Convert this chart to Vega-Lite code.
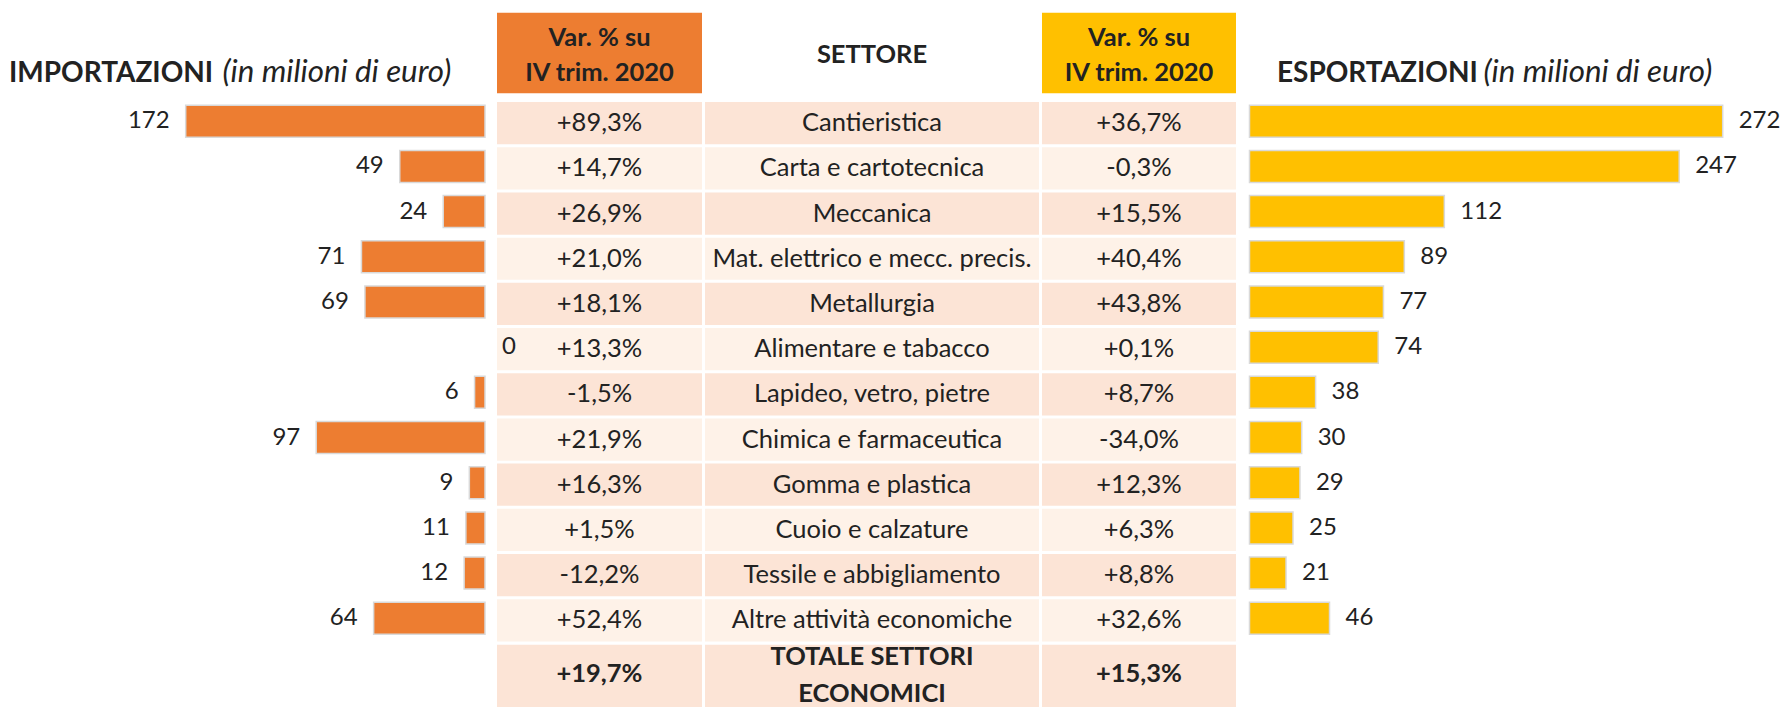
{
  "$schema": "https://vega.github.io/schema/vega-lite/v6.json",
  "padding": {"top": 12.7, "left": 0, "right": 0, "bottom": 0},
  "background": "white",
  "spacing": 0,
  "datasets": {
    "rows": [
      {"settore": "Cantieristica", "imp": 172, "var_imp": 0.893, "var_exp": 0.367, "exp": 272},
      {"settore": "Carta e cartotecnica", "imp": 49, "var_imp": 0.147, "var_exp": -0.003, "exp": 247},
      {"settore": "Meccanica", "imp": 24, "var_imp": 0.269, "var_exp": 0.155, "exp": 112},
      {"settore": "Mat. elettrico e mecc. precis.", "imp": 71, "var_imp": 0.210, "var_exp": 0.404, "exp": 89},
      {"settore": "Metallurgia", "imp": 69, "var_imp": 0.181, "var_exp": 0.438, "exp": 77},
      {"settore": "Alimentare e tabacco", "imp": 0, "var_imp": 0.133, "var_exp": 0.001, "exp": 74},
      {"settore": "Lapideo, vetro, pietre", "imp": 6, "var_imp": -0.015, "var_exp": 0.087, "exp": 38},
      {"settore": "Chimica e farmaceutica", "imp": 97, "var_imp": 0.219, "var_exp": -0.340, "exp": 30},
      {"settore": "Gomma e plastica", "imp": 9, "var_imp": 0.163, "var_exp": 0.123, "exp": 29},
      {"settore": "Cuoio e calzature", "imp": 11, "var_imp": 0.015, "var_exp": 0.063, "exp": 25},
      {"settore": "Tessile e abbigliamento", "imp": 12, "var_imp": -0.122, "var_exp": 0.088, "exp": 21},
      {"settore": "Altre attività economiche", "imp": 64, "var_imp": 0.524, "var_exp": 0.326, "exp": 46}
    ],
    "totale": [
      {"settore": "TOTALE SETTORI\nECONOMICI", "var_imp": 0.197, "var_exp": 0.153}
    ]
  },
  "config": {
    "view": {"stroke": null},
    "font": "Lato",
    "text": {"font": "Lato", "fontSize": 25.5, "fill": "#222222"},
    "locale": {"number": {"decimal": ",", "thousands": ".", "grouping": [3], "currency": ["", " €"], "minus": "-"}}
  },
  "hconcat": [
    {
      "spacing": 8.4,
      "vconcat": [
        {
          "width": 497, "height": 80.6,
          "data": {"values": [{}]},
          "layer": [
            {"mark": {"type": "text", "text": "IMPORTAZIONI", "fontWeight": "bold", "fontSize": 28, "align": "left", "baseline": "alphabetic", "dx": -239.5, "dy": 29}, "encoding": {}},
            {"mark": {"type": "text", "text": "(in milioni di euro)", "fontStyle": "italic", "fontSize": 31.3, "align": "left", "baseline": "alphabetic", "dx": -26, "dy": 29}, "encoding": {}}
          ]
        },
        {
          "width": 497, "height": 539.3,
          "data": {"name": "rows"},
          "encoding": {
            "y": {"field": "settore", "type": "nominal", "sort": null, "scale": {"paddingInner": 0.066, "paddingOuter": 0}, "axis": null},
            "x": {"field": "imp", "type": "quantitative", "scale": {"domain": [-6.9, 278.7], "reverse": true, "nice": false, "zero": true}, "axis": null}
          },
          "layer": [
            {"mark": {"type": "bar", "height": {"band": 0.758}, "fill": "#ED7D31", "stroke": "#D9D9D9", "strokeWidth": 1.5, "yOffset": -2},
             "encoding": {"strokeOpacity": {"condition": {"test": "datum.imp == 0", "value": 0}, "value": 1}}},
            {"mark": {"type": "text", "align": "right", "baseline": "middle", "dx": -16, "yOffset": -2, "fontSize": 24},
             "encoding": {"text": {"condition": {"test": "datum.imp == 0", "value": ""}, "field": "imp", "type": "quantitative"}}}
          ]
        }
      ]
    },
    {
      "spacing": 3,
      "hconcat": [
        {
          "spacing": 8.4,
          "vconcat": [
            {
              "width": 205, "height": 80.6,
              "data": {"values": [{}]},
              "layer": [
                {"mark": {"type": "rect", "fill": "#ED7D31"}, "encoding": {}},
                {"mark": {"type": "text", "text": ["Var. % su", "IV trim. 2020"], "fontWeight": "bold", "lineHeight": 34.7, "baseline": "middle", "dy": -14.7}, "encoding": {}}
              ]
            },
            {
              "spacing": 2.7,
              "vconcat": [
                {
                  "width": 205, "height": 539.3,
                  "data": {"name": "rows"},
                  "transform": [{"window": [{"op": "row_number", "as": "idx"}]}],
                  "encoding": {"y": {"field": "settore", "type": "nominal", "sort": null, "scale": {"paddingInner": 0.066, "paddingOuter": 0}, "axis": null}},
                  "layer": [
                    {"mark": {"type": "rect"},
                     "encoding": {"fill": {"condition": {"test": "datum.idx % 2 == 1", "value": "#FCE4D6"}, "value": "#FEF2E8"}}},
                    {"mark": {"type": "text", "baseline": "middle"},
                     "encoding": {"text": {"field": "var_imp", "type": "quantitative", "format": "+.1%"}}},
                    {"mark": {"type": "text", "baseline": "middle", "align": "left", "dx": -97.5, "yOffset": -2, "fontSize": 24},
                     "encoding": {"text": {"condition": {"test": "datum.imp != 0", "value": ""}, "field": "imp", "type": "quantitative"}}}
                  ]
                },
                {
                  "width": 205, "height": 62.3,
                  "data": {"name": "totale"},
                  "layer": [
                    {"mark": {"type": "rect", "fill": "#FCE4D6"}, "encoding": {}},
                    {"mark": {"type": "text", "fontWeight": "bold", "baseline": "middle", "dy": -2.4},
                     "encoding": {"text": {"field": "var_imp", "type": "quantitative", "format": "+.1%"}}}
                  ]
                }
              ]
            }
          ]
        },
        {
          "spacing": 8.4,
          "vconcat": [
            {
              "width": 334, "height": 80.6,
              "data": {"values": [{}]},
              "layer": [
                {"mark": {"type": "text", "text": "SETTORE", "fontWeight": "bold", "baseline": "middle", "dy": 2.3}, "encoding": {}}
              ]
            },
            {
              "spacing": 2.7,
              "vconcat": [
                {
                  "width": 334, "height": 539.3,
                  "data": {"name": "rows"},
                  "transform": [{"window": [{"op": "row_number", "as": "idx"}]}],
                  "encoding": {"y": {"field": "settore", "type": "nominal", "sort": null, "scale": {"paddingInner": 0.066, "paddingOuter": 0}, "axis": null}},
                  "layer": [
                    {"mark": {"type": "rect"},
                     "encoding": {"fill": {"condition": {"test": "datum.idx % 2 == 1", "value": "#FCE4D6"}, "value": "#FEF2E8"}}},
                    {"mark": {"type": "text", "baseline": "middle"},
                     "encoding": {"text": {"field": "settore", "type": "nominal"}}}
                  ]
                },
                {
                  "width": 334, "height": 62.3,
                  "data": {"name": "totale"},
                  "layer": [
                    {"mark": {"type": "rect", "fill": "#FCE4D6"}, "encoding": {}},
                    {"mark": {"type": "text", "fontWeight": "bold", "baseline": "middle", "lineBreak": "\n", "lineHeight": 37, "dy": -19},
                     "encoding": {"text": {"field": "settore", "type": "nominal"}}}
                  ]
                }
              ]
            }
          ]
        },
        {
          "spacing": 8.4,
          "vconcat": [
            {
              "width": 194, "height": 80.6,
              "data": {"values": [{}]},
              "layer": [
                {"mark": {"type": "rect", "fill": "#FFC000"}, "encoding": {}},
                {"mark": {"type": "text", "text": ["Var. % su", "IV trim. 2020"], "fontWeight": "bold", "lineHeight": 34.7, "baseline": "middle", "dy": -14.7}, "encoding": {}}
              ]
            },
            {
              "spacing": 2.7,
              "vconcat": [
                {
                  "width": 194, "height": 539.3,
                  "data": {"name": "rows"},
                  "transform": [{"window": [{"op": "row_number", "as": "idx"}]}],
                  "encoding": {"y": {"field": "settore", "type": "nominal", "sort": null, "scale": {"paddingInner": 0.066, "paddingOuter": 0}, "axis": null}},
                  "layer": [
                    {"mark": {"type": "rect"},
                     "encoding": {"fill": {"condition": {"test": "datum.idx % 2 == 1", "value": "#FCE4D6"}, "value": "#FEF2E8"}}},
                    {"mark": {"type": "text", "baseline": "middle"},
                     "encoding": {"text": {"field": "var_exp", "type": "quantitative", "format": "+.1%"}}}
                  ]
                },
                {
                  "width": 194, "height": 62.3,
                  "data": {"name": "totale"},
                  "layer": [
                    {"mark": {"type": "rect", "fill": "#FCE4D6"}, "encoding": {}},
                    {"mark": {"type": "text", "fontWeight": "bold", "baseline": "middle", "dy": -2.4},
                     "encoding": {"text": {"field": "var_exp", "type": "quantitative", "format": "+.1%"}}}
                  ]
                }
              ]
            }
          ]
        }
      ]
    },
    {
      "spacing": 8.4,
      "vconcat": [
        {
          "width": 545, "height": 80.6,
          "data": {"values": [{}]},
          "layer": [
            {"mark": {"type": "text", "text": "ESPORTAZIONI", "fontWeight": "bold", "fontSize": 28, "align": "left", "baseline": "alphabetic", "dx": -231.5, "dy": 29}, "encoding": {}},
            {"mark": {"type": "text", "text": "(in milioni di euro)", "fontStyle": "italic", "fontSize": 31.3, "align": "left", "baseline": "alphabetic", "dx": -25, "dy": 29}, "encoding": {}}
          ]
        },
        {
          "width": 545, "height": 539.3,
          "data": {"name": "rows"},
          "encoding": {
            "y": {"field": "settore", "type": "nominal", "sort": null, "scale": {"paddingInner": 0.066, "paddingOuter": 0}, "axis": null},
            "x": {"field": "exp", "type": "quantitative", "scale": {"domain": [-7.76, 305.5], "nice": false, "zero": true}, "axis": null}
          },
          "layer": [
            {"mark": {"type": "bar", "height": {"band": 0.758}, "fill": "#FFC000", "stroke": "#D9D9D9", "strokeWidth": 1.5, "yOffset": -2}},
            {"mark": {"type": "text", "align": "left", "baseline": "middle", "dx": 16, "yOffset": -2, "fontSize": 24},
             "encoding": {"text": {"field": "exp", "type": "quantitative"}}}
          ]
        }
      ]
    }
  ]
}
